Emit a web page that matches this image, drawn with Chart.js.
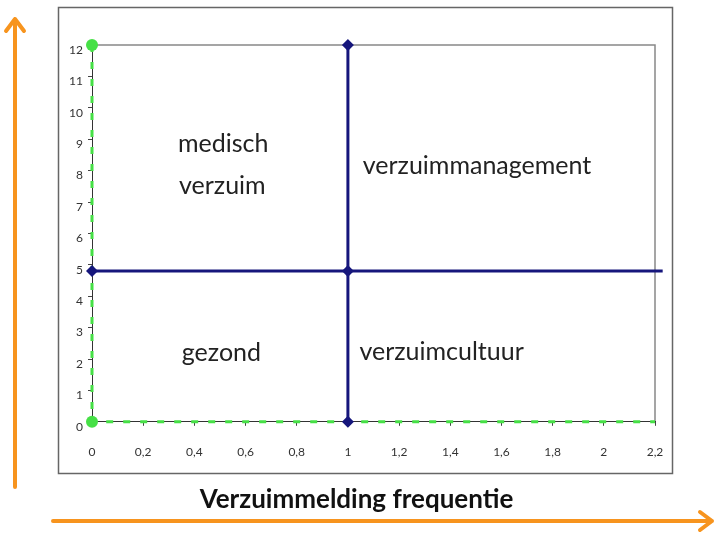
<html>
<head>
<script src="https://cdn.jsdelivr.net/npm/chart.js@4.4.1/dist/chart.umd.min.js"></script>
<style>
  body { margin: 0; background: #fff; }
  #wrap { width: 716px; height: 537px; }
</style>
</head>
<body>
<div id="wrap"><canvas id="myChart"></canvas></div>
<script>
// axis range and ticks
const xMax = 2.2;
const yMax = 12;
const xStep = 0.2;
const yStep = 1;

// green axis helper line: up the y axis, then along the x axis
const greenX = [0, 0, 2.2];
const greenY = [12, 0, 0];

// navy quadrant dividers
const vertX = [1, 1];
const vertY = [0, 12];
const horX = [0, 1, 2.23];
const horY = [4.8, 4.8, 4.8];

// quadrant names (placed in data units)
const labelText = ['medisch', 'verzuim', 'verzuimmanagement', 'gezond', 'verzuimcultuur'];
const labelX = [0.336, 0.34, 1.058, 0.351, 1.045];
const labelY = [8.58, 7.25, 7.88, 1.93, 1.96];

const xTitle = 'Verzuimmelding frequentie';

const toPts = (xs, ys) => xs.map((x, i) => ({ x: x, y: ys[i] }));

const navy = '#16167c';
const green = '#46e046';
const orange = '#f7941e';

const decor = {
  id: 'decor',
  beforeDraw(chart) {
    const ctx = chart.ctx;
    const a = chart.chartArea;
    ctx.save();
    ctx.fillStyle = '#fff';
    ctx.fillRect(0, 0, chart.width, chart.height);
    // outer frame
    ctx.strokeStyle = '#666';
    ctx.lineWidth = 1.5;
    ctx.strokeRect(58.5, 7.5, 614, 466);
    // plot frame top + right
    ctx.strokeStyle = '#888';
    ctx.lineWidth = 1.5;
    ctx.beginPath();
    ctx.moveTo(a.left, a.top);
    ctx.lineTo(a.right, a.top);
    ctx.lineTo(a.right, a.bottom);
    ctx.stroke();
    ctx.restore();
  },
  afterDatasetsDraw(chart) {
    const ctx = chart.ctx;
    const xs = chart.scales.x, ys = chart.scales.y;
    ctx.save();
    ctx.fillStyle = '#222';
    ctx.font = '25px Lato';
    ctx.textBaseline = 'alphabetic';
    ctx.textAlign = 'left';
    labelText.forEach((t, i) => {
      ctx.fillText(t, xs.getPixelForValue(labelX[i]), ys.getPixelForValue(labelY[i]));
    });
    ctx.restore();
  },
  afterDraw(chart) {
    const ctx = chart.ctx;
    ctx.save();
    ctx.strokeStyle = orange;
    ctx.lineWidth = 4;
    ctx.lineCap = 'round';
    ctx.lineJoin = 'round';
    // vertical arrow
    ctx.beginPath();
    ctx.moveTo(15, 487);
    ctx.lineTo(15, 19);
    ctx.moveTo(6, 31);
    ctx.lineTo(15, 19);
    ctx.lineTo(24, 31);
    ctx.stroke();
    // horizontal arrow
    ctx.beginPath();
    ctx.moveTo(53, 521);
    ctx.lineTo(712, 521);
    ctx.moveTo(700, 512);
    ctx.lineTo(712, 521);
    ctx.lineTo(700, 530);
    ctx.stroke();
    ctx.restore();
  }
};

const fmt = v => {
  const r = Math.round(v * 10) / 10;
  return String(r).replace('.', ',');
};

new Chart(document.getElementById('myChart'), {
  type: 'scatter',
  data: {
    datasets: [{
      label: 'verticaal',
      data: toPts(vertX, vertY),
      showLine: true,
      borderColor: navy,
      borderWidth: 3,
      pointStyle: 'rectRot',
      pointRadius: 6,
      pointBackgroundColor: navy,
      pointBorderWidth: 0,
      clip: false
    }, {
      label: 'horizontaal',
      data: toPts(horX, horY),
      showLine: true,
      borderColor: navy,
      borderWidth: 3,
      pointStyle: 'rectRot',
      pointRadius: [6, 6, 0],
      pointBackgroundColor: navy,
      pointBorderWidth: 0,
      clip: false
    }, {
      label: 'assen',
      data: toPts(greenX, greenY),
      showLine: true,
      borderColor: green,
      borderWidth: 3,
      borderDash: [7, 10],
      pointRadius: [6, 6, 0],
      pointBackgroundColor: green,
      pointBorderWidth: 0,
      clip: false
    }]
  },
  options: {
    responsive: true,
    maintainAspectRatio: false,
    animation: false,
    events: [],
    layout: { padding: { left: 58, right: 61, top: 45, bottom: 22 } },
    plugins: {
      legend: { display: false },
      tooltip: { enabled: false },
      title: {
        display: true,
        position: 'bottom',
        text: xTitle,
        color: '#111',
        font: { family: 'Lato', size: 26, weight: 'bold' },
        padding: { top: 12, bottom: 0 }
      }
    },
    scales: {
      x: {
        type: 'linear',
        min: 0,
        max: xMax,
        afterFit: s => { s.height = 50; },
        grid: { drawOnChartArea: false, tickLength: 4, color: '#444' },
        border: { color: '#333', width: 1 },
        ticks: {
          stepSize: xStep,
          padding: 19,
          color: '#333',
          font: { family: 'Lato', size: 12 },
          maxRotation: 0,
          callback: fmt
        }
      },
      y: {
        min: 0,
        max: yMax,
        afterFit: s => { s.width = 34; },
        grid: { drawOnChartArea: false, tickLength: 4, color: '#444' },
        border: { color: '#333', width: 1 },
        ticks: {
          stepSize: yStep,
          padding: 5,
          labelOffset: 5,
          color: '#333',
          font: { family: 'Lato', size: 12 }
        }
      }
    }
  },
  plugins: [decor]
});
</script>
</body>
</html>
